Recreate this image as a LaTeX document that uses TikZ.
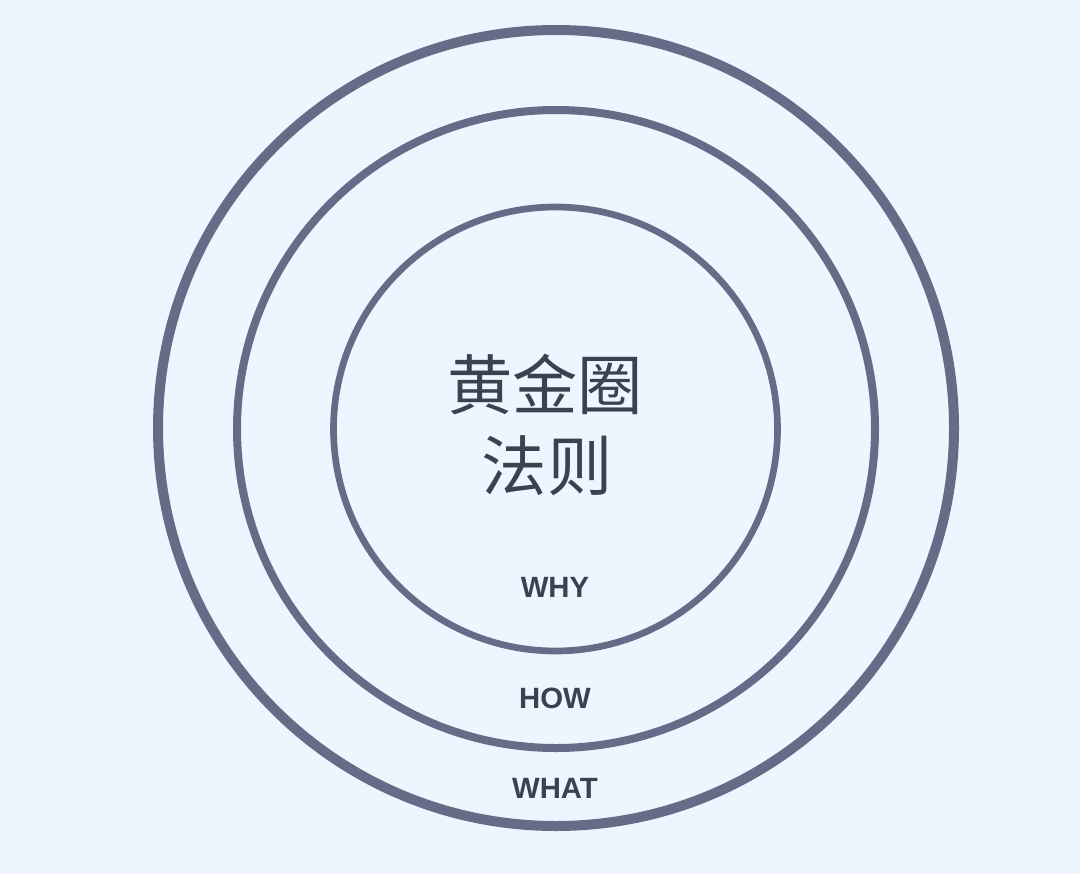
\documentclass[tikz,border=0pt]{standalone}
\usepackage{fontspec}
\setmainfont{Liberation Sans}
\newfontfamily\cjk{Noto Sans CJK SC}
\definecolor{bgc}{HTML}{EEF5FE}
\definecolor{ringc}{HTML}{646C88}
\definecolor{txtc}{HTML}{3C4152}
\begin{document}
\begin{tikzpicture}[x=0.75pt,y=-0.75pt,
  ring/.style={draw=ringc},
  cjktxt/.style={text=txtc,font=\cjk\fontsize{49}{62}\selectfont\color{txtc},inner sep=0pt,anchor=center},
  lab/.style={text=txtc,font=\fontsize{22}{26}\selectfont\bfseries,inner sep=0pt,anchor=center}]
\fill[bgc] (0,0) rectangle (1080,874);
\useasboundingbox (0,0) rectangle (1080,874);
\draw[ring,line width=7.5pt] (556,428) circle[radius=398*0.75pt];
\draw[ring,line width=6pt] (556,429) circle[radius=319*0.75pt];
\draw[ring,line width=5pt] (555.5,429) circle[radius=222*0.75pt];
\node[cjktxt] (t1) at (545,384) {黄金圈};
\node[cjktxt] (t2) at (547,466) {法则};
\node[lab] (why) at (555,587) {WHY};
\node[lab] (how) at (555,698) {HOW};
\node[lab] (what) at (555,788) {WHAT};
\end{tikzpicture}
\end{document}
